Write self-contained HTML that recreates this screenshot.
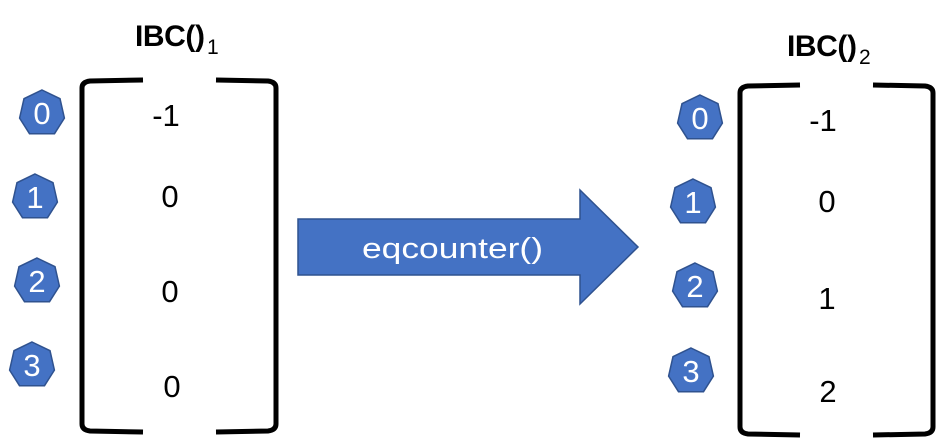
<!DOCTYPE html>
<html><head><style>
body{margin:0;background:#fff;}
svg{display:block;}
text{font-family:"Liberation Sans",sans-serif;}
</style></head><body>
<svg width="937" height="442" viewBox="0 0 937 442" xmlns="http://www.w3.org/2000/svg">
<defs>
<polygon id="hep" points="0,-23 18,-14.3 22.4,5.1 12.5,20.7 -12.5,20.7 -22.4,5.1 -18,-14.3" fill="#4472c4" stroke="#2f528f" stroke-width="1.5"/>
</defs>
<text x="135" y="46" font-size="30" font-weight="bold" textLength="70">IBC()</text>
<text x="207" y="54" font-size="21">1</text>
<text x="787" y="56" font-size="30" font-weight="bold" textLength="70">IBC()</text>
<text x="859" y="64" font-size="21">2</text>
<g fill="none" stroke="#000" stroke-width="5">
<path d="M143,80 L90,81 Q82,82 82,88 L82,424 Q82,430 90,431 L143,432"/>
<path d="M216,80 L268,81 Q276,82 276,88 L276,424 Q276,430 268,431 L216,432"/>
<path d="M800,85 L748,86 Q740,87 740,93 L740,427 Q740,433 748,434 L800,435"/>
<path d="M873,85 L925,86 Q933,87 933,93 L933,427 Q933,433 925,434 L873,435"/>
</g>
<g font-size="31" fill="#fff" text-anchor="middle">
<use href="#hep" x="42" y="113"/><text x="42" y="124" fill="#fff">0</text>
<use href="#hep" x="35" y="197"/><text x="35" y="208" fill="#fff">1</text>
<use href="#hep" x="37" y="281"/><text x="37" y="292" fill="#fff">2</text>
<use href="#hep" x="32" y="365"/><text x="32" y="376" fill="#fff">3</text>
<use href="#hep" x="700" y="118"/><text x="700" y="129" fill="#fff">0</text>
<use href="#hep" x="693" y="202"/><text x="693" y="213" fill="#fff">1</text>
<use href="#hep" x="695" y="286"/><text x="695" y="297" fill="#fff">2</text>
<use href="#hep" x="691" y="371"/><text x="691" y="382" fill="#fff">3</text>
</g>
<g font-size="31" fill="#000" text-anchor="middle">
<text x="166" y="126">-1</text>
<text x="170" y="207">0</text>
<text x="170" y="302">0</text>
<text x="172" y="397">0</text>
<text x="823" y="131">-1</text>
<text x="827" y="212">0</text>
<text x="827" y="309">1</text>
<text x="828" y="402">2</text>
</g>
<polygon points="298,219 580,219 580,190 638,247 580,304 580,275 298,275" fill="#4472c4" stroke="#2f528f" stroke-width="1.5"/>
<text x="362" y="258" font-size="29" fill="#fff" textLength="181" lengthAdjust="spacingAndGlyphs">eqcounter()</text>
</svg>
</body></html>
